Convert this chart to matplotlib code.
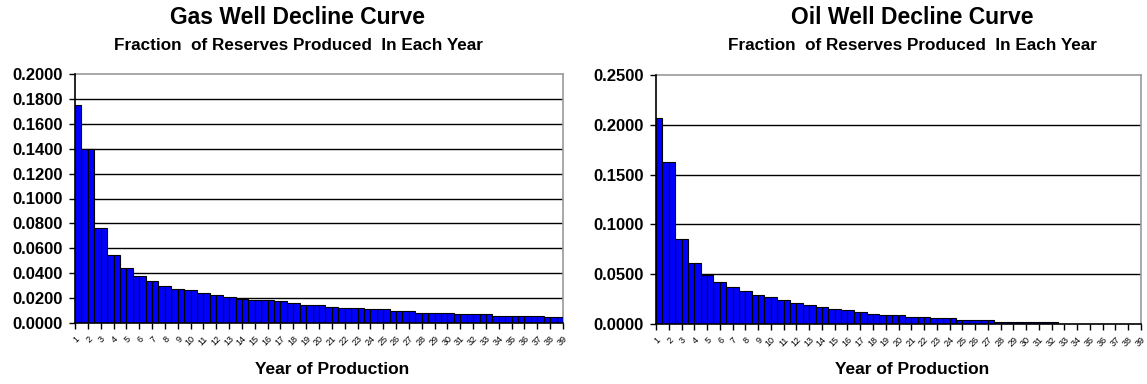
import matplotlib

matplotlib.use("Agg")
import matplotlib.pyplot as plt
import numpy as np

plt.rcParams["font.family"] = ["Liberation Sans", "DejaVu Sans"]

years = list(range(1, 40))

gas_fraction = [
    0.175, 0.140, 0.0765, 0.0546, 0.0444, 0.0377, 0.0340, 0.0300, 0.0277, 0.0263,
    0.0238, 0.0226, 0.0210, 0.0196, 0.0188, 0.0186, 0.0174, 0.0160, 0.0146, 0.0146,
    0.0132, 0.0118, 0.0118, 0.0110, 0.0110, 0.0096, 0.0096, 0.0083, 0.0083, 0.0083,
    0.0070, 0.0070, 0.0070, 0.0056, 0.0056, 0.0056, 0.0056, 0.0045, 0.0045,
]
oil_fraction = [
    0.207, 0.163, 0.0855, 0.0615, 0.0493, 0.0417, 0.0368, 0.0336, 0.0288, 0.0269,
    0.0236, 0.0208, 0.0186, 0.0169, 0.0154, 0.0137, 0.0121, 0.0105, 0.0086, 0.0086,
    0.0071, 0.0071, 0.0057, 0.0057, 0.0040, 0.0040, 0.0040, 0.0023, 0.0023, 0.0023,
    0.0023, 0.0023, 0.0, 0.0, 0.0, 0.0, 0.0, 0.0, 0.0,
]

gas_yticks = [0.0, 0.02, 0.04, 0.06, 0.08, 0.10, 0.12, 0.14, 0.16, 0.18, 0.20]
oil_yticks = [0.0, 0.05, 0.10, 0.15, 0.20, 0.25]

BAR = "#0000FF"
BORDER = "#9a9a9a"

W, H = 1147, 384
fig = plt.figure(figsize=(W / 100, H / 100), dpi=100)
fig.patch.set_facecolor("white")


def panel(rect, vals, yticks, title, sub, cx):
    ax = fig.add_axes(rect)
    x = np.array(years)
    v = np.array(vals)
    # two adjacent half-width bars per year, as in the source workbook
    ax.bar(x - 0.25, v, width=0.5, color=BAR, edgecolor="black", linewidth=0.8, zorder=3)
    ax.bar(x + 0.25, v, width=0.5, color=BAR, edgecolor="black", linewidth=0.8, zorder=3)
    ax.set_xlim(years[0], years[-1])
    ax.set_ylim(yticks[0], yticks[-1])
    ax.set_yticks(yticks)
    ax.set_yticklabels(["%.4f" % t for t in yticks], fontsize=12, fontweight="bold")
    for t in yticks[1:-1]:
        ax.axhline(t, color="black", linewidth=1.0, zorder=1)
    ax.set_xticks(years)
    ax.set_xticklabels([str(y) for y in years], fontsize=6.5, rotation=45,
                       ha="right", va="top", rotation_mode="anchor")
    ax.tick_params(axis="x", length=4, width=1, pad=4)
    ax.tick_params(axis="y", length=4, width=1, pad=5)
    ax.spines["left"].set_color("black")
    ax.spines["bottom"].set_color("black")
    ax.spines["left"].set_linewidth(1.2)
    ax.spines["bottom"].set_linewidth(1.2)
    ax.spines["left"].set_zorder(5)
    ax.spines["bottom"].set_zorder(5)
    for s in ("top", "right"):
        ax.spines[s].set_color(BORDER)
        ax.spines[s].set_linewidth(1.2)
    fig.text(cx / W, 1 - 18 / H, title, ha="center", va="center",
             fontsize=16.5, fontweight="bold")
    fig.text(cx / W, 1 - 46 / H, sub, ha="center", va="center",
             fontsize=12.3, fontweight="bold")
    return ax


gas = panel([75 / W, 1 - 323 / H, 488 / W, 249 / H], gas_fraction, gas_yticks,
            "Gas Well Decline Curve", "Fraction  of Reserves Produced  In Each Year", 298)
oil = panel([656 / W, 1 - 324 / H, 485 / W, 249 / H], oil_fraction, oil_yticks,
            "Oil Well Decline Curve", "Fraction  of Reserves Produced  In Each Year", 912)

fig.text(332 / W, 1 - 370 / H, "Year of Production", ha="center", va="center",
         fontsize=12.5, fontweight="bold")
fig.text(912 / W, 1 - 370 / H, "Year of Production", ha="center", va="center",
         fontsize=12.5, fontweight="bold")

fig.savefig("out.png", dpi=100, facecolor="white")
